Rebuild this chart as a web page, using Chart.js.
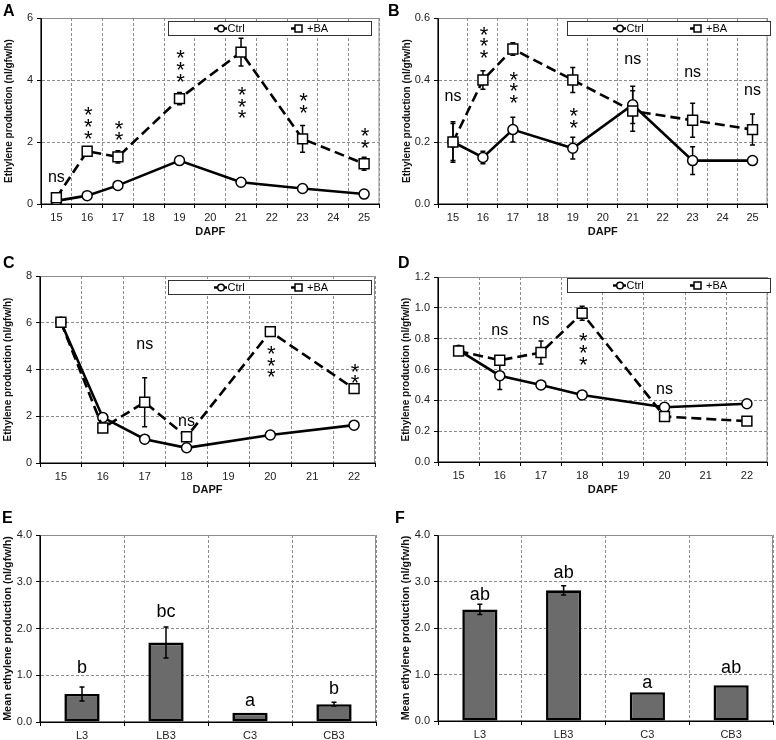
<!DOCTYPE html>
<html><head><meta charset="utf-8">
<script src="https://cdn.jsdelivr.net/npm/chart.js@4/dist/chart.umd.min.js"></script>
<style>
html,body{margin:0;padding:0;background:#fff;}
#wrap{position:relative;width:776px;height:740px;overflow:hidden;background:#fff;}
canvas{position:absolute;}
</style></head><body><div id="wrap"></div>
<script>
// ---------- DATA ----------
const daysAB = ['15','16','17','18','19','20','21','22','23','24','25'];
const daysCD = ['15','16','17','18','19','20','21','22'];

const ctrlA    = [0.1, 0.27, 0.6, null, 1.4, null, 0.7, null, 0.5, null, 0.32];
const ctrlAErr = [0.03, 0.04, 0.05, null, 0.08, null, 0.05, null, 0.05, null, 0.04];
const baA      = [0.2, 1.7, 1.52, null, 3.4, null, 4.9, null, 2.1, null, 1.3];
const baAErr   = [0.05, 0.09, 0.2, null, 0.2, null, 0.45, null, 0.43, null, 0.21];

const ctrlB    = [0.2, 0.15, 0.24, null, 0.18, null, 0.32, null, 0.14, null, 0.14];
const ctrlBErr = [0.06, 0.02, 0.04, null, 0.035, null, 0.06, null, 0.045, null, 0];
const baB      = [0.2, 0.4, 0.5, null, 0.4, null, 0.3, null, 0.27, null, 0.24];
const baBErr   = [0.065, 0.03, 0.02, null, 0.04, null, 0.065, null, 0.055, null, 0.05];

const ctrlC    = [6.02, 1.95, 1.02, 0.65, null, 1.2, null, 1.62];
const ctrlCErr = [0.05, 0.1, 0.05, 0.05, null, 0.05, null, 0.05];
const baC      = [6.02, 1.5, 2.6, 1.12, null, 5.62, null, 3.18];
const baCErr   = [0.05, 0.1, 1.05, 0.1, null, 0.1, null, 0.1];

const ctrlD    = [0.725, 0.56, 0.5, 0.435, null, 0.355, null, 0.378];
const ctrlDErr = [0.02, 0.09, 0.015, 0.01, null, 0.01, null, 0.01];
const baD      = [0.72, 0.66, 0.71, 0.965, null, 0.295, null, 0.265];
const baDErr   = [0.02, 0.02, 0.075, 0.045, null, 0.01, null, 0.01];

const groups   = ['L3', 'LB3', 'C3', 'CB3'];
const meanE    = [0.6, 1.7, 0.2, 0.38];
const meanEErr = [0.15, 0.33, 0, 0.04];
const meanF    = [2.4, 2.81, 0.62, 0.77];
const meanFErr = [0.11, 0.1, 0, 0];

const ticksA = [0, 6, 2];      // min, max, step
const ticksB = [0, 0.6, 0.2];
const ticksC = [0, 8, 2];
const ticksD = [0, 1.2, 0.2];
const ticksEF = [0, 4, 1];

// significance marks: [category, value anchor, text]
const marksA = [['15',0.85,'ns'],['16',2.66,'***'],['17',2.42,'**'],['19',4.5,'***'],['21',3.32,'***'],['23',3.3,'**'],['25',2.18,'**']];
const marksB = [['15',0.346,'ns'],['16',0.526,'***'],['17',0.381,'***'],['19',0.283,'**'],['21',0.464,'ns'],['23',0.423,'ns'],['25',0.365,'ns']];
const marksC = [['17',5.04,'ns'],['18',1.78,'ns'],['20',4.4,'***'],['22',3.9,'**']];
const marksD = [['16',0.848,'ns'],['17',0.917,'ns'],['18',0.744,'***'],['20',0.469,'ns']];
const marksE = [['L3',1.18,'b'],['LB3',2.39,'bc'],['C3',0.45,'a'],['CB3',0.73,'b']];
const marksF = [['L3',2.75,'ab'],['LB3',3.21,'ab'],['C3',0.82,'a'],['CB3',1.17,'ab']];

const yTitle = 'Ethylene production (nl/gfw/h)';
const yTitleMean = 'Mean ethylene production (nl/gfw/h)';
const xTitle = 'DAPF';

// ---------- RENDERING ----------
const FONT = '"Liberation Sans", Arial, sans-serif';
Chart.defaults.font.family = FONT;
const wrap = document.getElementById('wrap');

const framePlugin = {
  id: 'frame',
  beforeDatasetsDraw(chart) {
    const {ctx, chartArea: a} = chart;
    ctx.save();
    ctx.strokeStyle = '#8c8c8c'; ctx.lineWidth = 1;
    ctx.beginPath();
    ctx.moveTo(a.left, a.top + 0.5); ctx.lineTo(a.right - 0.5, a.top + 0.5); ctx.lineTo(a.right - 0.5, a.bottom);
    ctx.stroke();
    ctx.strokeStyle = '#000'; ctx.lineWidth = 1.2;
    ctx.beginPath();
    ctx.moveTo(a.left, a.top); ctx.lineTo(a.left, a.bottom); ctx.lineTo(a.right, a.bottom);
    ctx.stroke();
    ctx.restore();
  }
};

function drawErrors(chart) {
  const ctx = chart.ctx, ys = chart.scales.y;
  chart.data.datasets.forEach((ds, di) => {
    if (!ds.errors) return;
    const meta = chart.getDatasetMeta(di);
    meta.data.forEach((el, i) => {
      const v = ds.data[i], e = ds.errors[i];
      if (v == null || !e) return;
      const x = el.x, y1 = ys.getPixelForValue(v + e), y2 = ys.getPixelForValue(v - e);
      ctx.save();
      ctx.strokeStyle = '#000'; ctx.lineWidth = 1.5;
      ctx.beginPath();
      ctx.moveTo(x, y1); ctx.lineTo(x, y2);
      ctx.moveTo(x - 2.5, y1); ctx.lineTo(x + 2.5, y1);
      ctx.moveTo(x - 2.5, y2); ctx.lineTo(x + 2.5, y2);
      ctx.stroke();
      ctx.restore();
    });
  });
}
const errorPlugin = {
  id: 'errorBars',
  beforeDatasetsDraw(chart, args, o) { if (!o.onTop) drawErrors(chart); },
  afterDatasetsDraw(chart, args, o) { if (o.onTop) drawErrors(chart); }
};

const notesPlugin = {
  id: 'notes',
  afterDatasetsDraw(chart, args, o) {
    const ctx = chart.ctx, xs = chart.scales.x, ys = chart.scales.y;
    (o.items || []).forEach(([cat, v, t]) => {
      const x = xs.getPixelForValue(chart.data.labels.indexOf(cat));
      const yc = ys.getPixelForValue(v);
      ctx.save();
      ctx.fillStyle = '#000'; ctx.textAlign = 'center'; ctx.textBaseline = 'alphabetic';
      if (t[0] === '*') {
        const fs = o.starSize || 19, sp = 11.7;
        ctx.font = fs + 'px ' + FONT;
        for (let k = 0; k < t.length; k++) {
          const yy = yc + (k - (t.length - 1) / 2) * sp;
          ctx.fillText('*', x + 1, yy + 0.57 * fs);
        }
      } else {
        const fs = o.textSize || 16;
        ctx.font = fs + 'px ' + FONT;
        const off = /[bdfhkl]/.test(t) ? 0.36 : 0.26;
        ctx.fillText(t, x, yc + off * fs);
      }
      ctx.restore();
    });
  }
};

const legendPlugin = {
  id: 'boxLegend',
  afterDraw(chart, args, o) {
    if (!o.show) return;
    const {ctx, chartArea: a} = chart;
    const l = Math.round(a.left + o.dx), t = Math.round(a.top + o.dy), w = 203, h = 14;
    const ctrl = chart.data.datasets.find(d => d.pointStyle === 'circle');
    const ba = chart.data.datasets.find(d => d.pointStyle === 'rect');
    ctx.save();
    ctx.fillStyle = '#fff'; ctx.fillRect(l, t, w, h);
    ctx.strokeStyle = '#333'; ctx.lineWidth = 1; ctx.strokeRect(l + 0.5, t + 0.5, w, h);
    const cy = t + h / 2 + 0.5;
    ctx.strokeStyle = '#000';
    ctx.lineWidth = 2.5;
    ctx.beginPath(); ctx.moveTo(l + 46, cy); ctx.lineTo(l + 59, cy); ctx.stroke();
    ctx.beginPath(); ctx.arc(l + 53, cy, 3.3, 0, Math.PI * 2);
    ctx.fillStyle = '#fff'; ctx.fill(); ctx.lineWidth = 1.5; ctx.stroke();
    ctx.lineWidth = 2.5;
    ctx.beginPath(); ctx.moveTo(l + 123, cy); ctx.lineTo(l + 128, cy); ctx.stroke();
    ctx.fillStyle = '#fff'; ctx.fillRect(l + 127, cy - 3.5, 7, 7);
    ctx.lineWidth = 1.5; ctx.strokeRect(l + 127, cy - 3.5, 7, 7);
    ctx.fillStyle = '#000'; ctx.font = '11px ' + FONT; ctx.textBaseline = 'middle'; ctx.textAlign = 'left';
    ctx.fillText(ctrl.label, l + 59.5, cy + 0.5);
    ctx.fillText(ba.label, l + 139, cy + 0.5);
    ctx.restore();
  }
};

const letterPlugin = {
  id: 'panelLetter',
  afterDraw(chart, args, o) {
    const ctx = chart.ctx;
    ctx.save();
    ctx.fillStyle = '#000'; ctx.font = 'bold 16px ' + FONT;
    ctx.textBaseline = 'alphabetic'; ctx.textAlign = 'left';
    ctx.fillText(o.text, o.x, o.y);
    ctx.restore();
  }
};

function makePanel(p) {
  const cv = document.createElement('canvas');
  cv.width = p.w; cv.height = p.h;
  Object.assign(cv.style, {left: p.x0 + 'px', top: p.y0 + 'px', width: p.w + 'px', height: p.h + 'px'});
  wrap.appendChild(cv);
  const [ymin, ymax, step] = p.ticks;
  const tickFont = {family: FONT, size: 11};
  return new Chart(cv, {
    type: p.type,
    data: {labels: p.labels, datasets: p.datasets},
    plugins: [framePlugin, errorPlugin, notesPlugin, legendPlugin, letterPlugin],
    options: {
      responsive: false, animation: false, devicePixelRatio: 1, events: [],
      layout: {padding: {left: 0, top: p.T, right: p.w - p.R, bottom: 0}},
      plugins: {
        legend: {display: false}, tooltip: {enabled: false},
        errorBars: {onTop: p.type === 'bar'},
        notes: {items: p.marks, textSize: p.textSize, starSize: 22},
        boxLegend: {show: p.type === 'line', dx: p.legDx, dy: p.legDy},
        panelLetter: {text: p.letter, x: p.lx, y: p.ly}
      },
      scales: {
        x: {
          type: 'category', offset: true,
          grid: {offset: true, color: '#8c8c8c', lineWidth: 1, tickLength: 4, tickColor: '#000', tickWidth: 1, tickBorderDash: []},
          border: {display: true, color: '#000', width: 1, dash: [3, 2]},
          ticks: {font: tickFont, color: '#222', padding: 3, maxRotation: 0, autoSkip: false},
          title: p.xt ? {display: true, text: p.xt, color: '#111', font: {family: FONT, size: 11, weight: 'bold'}, padding: {top: 0, bottom: p.xtPad}} : {display: false},
          afterFit(s) { s.height = p.h - p.B; }
        },
        y: {
          min: ymin, max: ymax,
          grid: {color: '#8c8c8c', lineWidth: 1, tickLength: 4, tickColor: '#000', tickWidth: 1, tickBorderDash: []},
          border: {display: true, color: '#000', width: 1, dash: [3, 2]},
          ticks: {stepSize: step, font: tickFont, color: '#222', padding: 4,
                  callback: v => p.dec ? Number(v).toFixed(p.dec) : String(Math.round(v))},
          title: {display: true, text: p.yt, color: '#111', font: {family: FONT, size: p.ytSize, weight: 'bold'}, padding: {top: p.ytPad, bottom: 0}},
          afterFit(s) { s.width = p.L; }
        }
      }
    }
  });
}

function lineSets(ctrl, ctrlErr, ba, baErr) {
  return [
    {label: '+BA', data: ba, errors: baErr, order: 0, borderColor: '#000', borderWidth: 2.6, borderDash: [10, 5],
     pointStyle: 'rect', pointRadius: 7, pointBackgroundColor: '#fff', pointBorderColor: '#000', pointBorderWidth: 1.5,
     spanGaps: true, tension: 0, fill: false},
    {label: 'Ctrl', data: ctrl, errors: ctrlErr, order: 1, borderColor: '#000', borderWidth: 2.6,
     pointStyle: 'circle', pointRadius: 5, pointBackgroundColor: '#fff', pointBorderColor: '#000', pointBorderWidth: 1.5,
     spanGaps: true, tension: 0, fill: false}
  ];
}
function barSets(mean, err) {
  return [{label: 'Mean', data: mean, errors: err, backgroundColor: '#6b6b6b', borderColor: '#000', borderWidth: 2.6,
           borderSkipped: false, barPercentage: 0.42, categoryPercentage: 1}];
}

makePanel({type: 'line', x0: 0, y0: 0, w: 388, h: 245, L: 41, T: 18, R: 380, B: 204, labels: daysAB,
  datasets: lineSets(ctrlA, ctrlAErr, baA, baAErr), ticks: ticksA, dec: 0, marks: marksA, textSize: 16,
  yt: yTitle, ytSize: 10, ytPad: 3.3, xt: xTitle, xtPad: 6.4, legDx: 127, legDy: 3, letter: 'A', lx: 3, ly: 16});
makePanel({type: 'line', x0: 385, y0: 0, w: 391, h: 245, L: 53, T: 18, R: 387, B: 204, labels: daysAB,
  datasets: lineSets(ctrlB, ctrlBErr, baB, baBErr), ticks: ticksB, dec: 1, marks: marksB, textSize: 16,
  yt: yTitle, ytSize: 10, ytPad: 16, xt: xTitle, xtPad: 6.4, legDx: 129, legDy: 3, letter: 'B', lx: 3, ly: 16});
makePanel({type: 'line', x0: 0, y0: 245, w: 388, h: 255, L: 40, T: 31, R: 375, B: 218, labels: daysCD,
  datasets: lineSets(ctrlC, ctrlCErr, baC, baCErr), ticks: ticksC, dec: 0, marks: marksC, textSize: 16,
  yt: yTitle, ytSize: 10, ytPad: 2.3, xt: xTitle, xtPad: 3.4, legDx: 128, legDy: 3.5, letter: 'C', lx: 3, ly: 23});
makePanel({type: 'line', x0: 385, y0: 245, w: 391, h: 255, L: 53, T: 32, R: 388, B: 217, labels: daysCD,
  datasets: lineSets(ctrlD, ctrlDErr, baD, baDErr), ticks: ticksD, dec: 1, marks: marksD, textSize: 16,
  yt: yTitle, ytSize: 10, ytPad: 15, xt: xTitle, xtPad: 3.4, legDx: 129, legDy: 1, letter: 'D', lx: 13, ly: 23});
makePanel({type: 'bar', x0: 0, y0: 490, w: 388, h: 250, L: 40, T: 45, R: 376, B: 232, labels: groups,
  datasets: barSets(meanE, meanEErr), ticks: ticksEF, dec: 1, marks: marksE, textSize: 18,
  yt: yTitleMean, ytSize: 10.8, ytPad: 2, xt: null, letter: 'E', lx: 2, ly: 33});
makePanel({type: 'bar', x0: 385, y0: 490, w: 391, h: 250, L: 53, T: 45, R: 388, B: 231, labels: groups,
  datasets: barSets(meanF, meanFErr), ticks: ticksEF, dec: 1, marks: marksF, textSize: 18,
  yt: yTitleMean, ytSize: 10.8, ytPad: 15, xt: null, letter: 'F', lx: 10, ly: 33});
</script>
</body></html>
